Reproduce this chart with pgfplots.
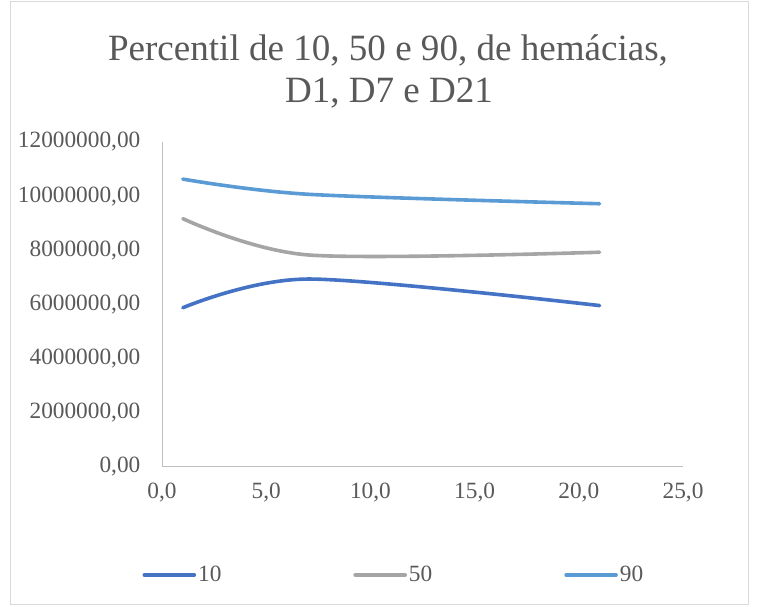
\documentclass[border=0pt]{standalone}
\usepackage{pgfplots}
\pgfplotsset{compat=1.18}
\usepackage{fontspec}
\setmainfont{Liberation Serif}
\definecolor{c10}{HTML}{4472C4}
\definecolor{c50}{HTML}{A5A5A5}
\definecolor{c90}{HTML}{5B9BD5}
\definecolor{txt}{HTML}{595959}
\definecolor{axl}{HTML}{BFBFBF}
\definecolor{frm}{HTML}{D9D9D9}
\begin{document}
\begin{tikzpicture}[x=1bp,y=1bp]
\path (0,0) rectangle (757,607);
\draw[frm, line width=1bp] (10,2) rectangle (748,605);
\node[txt, font=\fontsize{37.2}{43}\selectfont, anchor=base] at (388,546) {Percentil de 10, 50 e 90, de hemácias,};
\node[txt, font=\fontsize{37.2}{43}\selectfont, anchor=base] at (389,504) {D1, D7 e D21};
\begin{axis}[
  at={(162bp,140bp)}, anchor=south west,
  scale only axis, width=521bp, height=325bp,
  xmin=0, xmax=25, ymin=0, ymax=12000000,
  axis x line=bottom, axis y line=left,
  axis line style={axl, line width=1bp, -},
  xtick={0,5,10,15,20,25},
  ytick={0,2000000,4000000,6000000,8000000,10000000,12000000},
  tick style={draw=none},
  scaled ticks=false,
  /pgf/number format/assume math mode=true,
  xticklabel style={font=\fontsize{23.4}{28}\selectfont, text=txt, yshift=-10bp,
    /pgf/number format/.cd, fixed, fixed zerofill, precision=1, use comma},
  yticklabel style={font=\fontsize{23.4}{28}\selectfont, text=txt, xshift=-16bp,
    /pgf/number format/.cd, fixed, fixed zerofill, precision=2, use comma, 1000 sep={}},
  legend columns=3,
  legend style={at={(0.445,-0.332)}, anchor=center, draw=none, fill=none,
    font=\fontsize{23.4}{28}\selectfont, text=txt,
    /tikz/every even column/.append style={column sep=130bp}},
  legend image code/.code={\draw[#1] (0bp,0bp) -- (50bp,0bp);},
  every axis plot/.append style={line width=3.6bp, line cap=round},
]
\addplot[c10, smooth, no markers] coordinates {(1,5880000) (7,6940000) (21,5960000)};
\addlegendentry{10}
\addplot[c50, smooth, no markers] coordinates {(1,9170000) (7,7830000) (21,7930000)};
\addlegendentry{50}
\addplot[c90, smooth, no markers] coordinates {(1,10630000) (7,10070000) (21,9720000)};
\addlegendentry{90}
\end{axis}
\end{tikzpicture}
\end{document}
